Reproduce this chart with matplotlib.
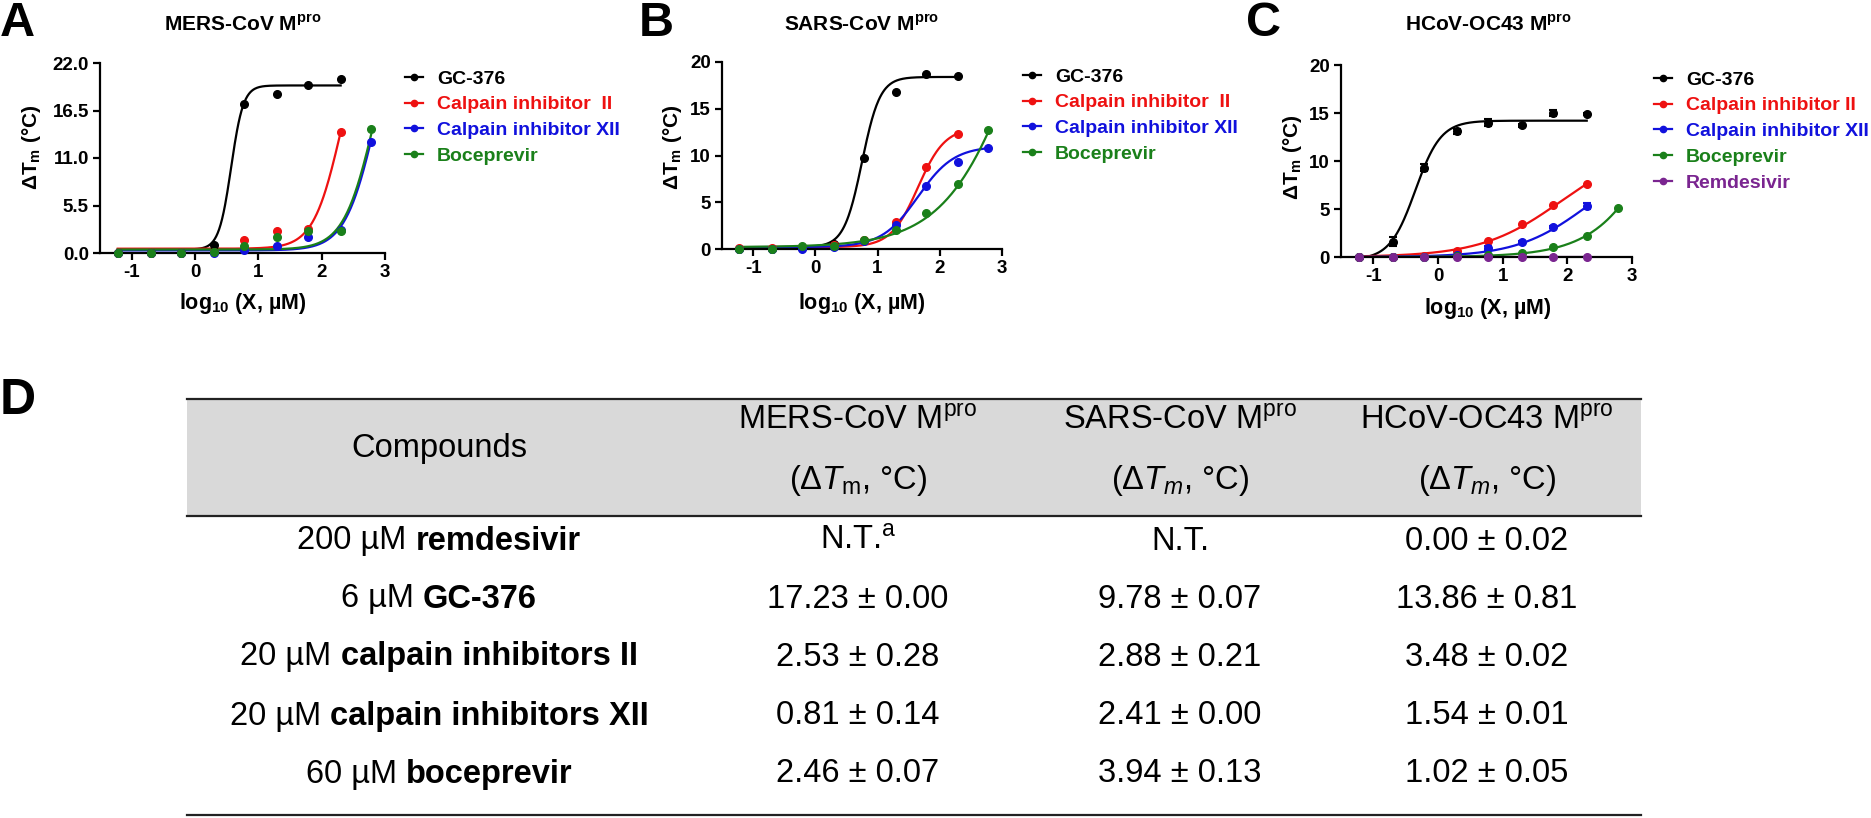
import matplotlib
matplotlib.use("Agg")
import matplotlib.pyplot as plt
from matplotlib.lines import Line2D
from matplotlib.patches import Rectangle
import numpy as np

plt.rcParams['font.family'] = ['Liberation Sans', 'DejaVu Sans']
plt.rcParams['mathtext.fontset'] = 'custom'
plt.rcParams['mathtext.rm'] = 'Liberation Sans'
plt.rcParams['mathtext.bf'] = 'Liberation Sans:bold'
plt.rcParams['mathtext.it'] = 'Liberation Sans:italic'

# log10 of compound concentration (uM)
log_conc = [-1.22, -0.70, -0.22, 0.30, 0.78, 1.30, 1.78, 2.30, 2.78]

# Panel A: MERS-CoV Mpro, delta Tm (C)
mers_gc376 = [0.0, 0.0, 0.05, 0.96, 17.2, 18.4, 19.4, 20.1]
mers_cal2 = [0.0, 0.0, 0.05, 0.1, 1.55, 2.5, 2.8, 14.0]
mers_cal12 = [0.0, 0.0, 0.0, 0.05, 0.3, 0.8, 1.85, 2.7, 12.9]
mers_boce = [0.0, 0.0, 0.05, 0.1, 0.8, 1.85, 2.5, 2.6, 14.35]

# Panel B: SARS-CoV Mpro
sars_gc376 = [0.0, 0.05, 0.1, 0.5, 9.78, 16.8, 18.7, 18.5]
sars_cal2 = [0.1, 0.1, 0.2, 0.4, 1.0, 2.85, 8.75, 12.3]
sars_cal12 = [0.0, 0.0, 0.0, 0.2, 0.9, 2.6, 6.75, 9.35, 10.85]
sars_boce = [0.0, 0.05, 0.3, 0.35, 1.0, 2.0, 3.85, 6.9, 12.7]

# Panel C: HCoV-OC43 Mpro
hcov_gc376 = [0.0, 1.6, 9.3, 13.1, 14.0, 13.7, 15.0, 14.9]
hcov_gc376_err = [0.0, 0.45, 0.35, 0.25, 0.4, 0.2, 0.3, 0.1]
hcov_cal2 = [0.0, 0.0, 0.15, 0.6, 1.7, 3.4, 5.4, 7.65]
hcov_cal12 = [0.0, 0.0, 0.05, 0.2, 0.9, 1.6, 3.1, 5.3]
hcov_cal12_err = [0.0, 0.0, 0.0, 0.0, 0.2, 0.1, 0.1, 0.3]
hcov_boce = [0.0, 0.0, 0.0, 0.1, 0.2, 0.4, 1.0, 2.2, 5.1]
hcov_remd = [0.0, 0.0, 0.0, 0.0, 0.0, 0.0, 0.0, 0.0]

# fitted dose-response parameters: bottom, top, logEC50, hill slope
mers_fits = [(0.4, 19.4, 0.57, 4.5), (0.5, 27.5, 2.3, 2.0), (0.3, 30.0, 2.85, 1.8), (0.4, 30.0, 2.83, 1.8)]
sars_fits = [(0.2, 18.4, 0.75, 3.0), (0.2, 13.0, 1.65, 2.0), (0.2, 11.0, 1.65, 1.5), (0.2, 46.0, 3.4, 0.7)]
hcov_fits = [(-0.3, 14.2, -0.35, 2.2), (0.0, 11.6, 1.9, 0.7), (0.0, 10.5, 2.3, 0.8),
             (0.0, 38.0, 3.8, 0.8), (0.0, 0.0, 0.0, 1.0)]

names = ["GC-376", "Calpain inhibitor  II", "Calpain inhibitor XII", "Boceprevir", "Remdesivir"]
names_c = ["GC-376", "Calpain inhibitor II", "Calpain inhibitor XII", "Boceprevir", "Remdesivir"]
colors = ["#000000", "#EE1111", "#1111DD", "#1A801A", "#7A2590"]

mers_yticks = [0.0, 5.5, 11.0, 16.5, 22.0]
other_yticks = [0, 5, 10, 15, 20]
xticks = [-1, 0, 1, 2, 3]

# table D
conc_txt = ["200 µM", "6 µM", "20 µM", "20 µM", "60 µM"]
cmpd_txt = ["remdesivir", "GC-376", "calpain inhibitors II", "calpain inhibitors XII", "boceprevir"]
mers_dtm = ["N.T.$^{\\mathrm{a}}$", "17.23 ± 0.00", "2.53 ± 0.28", "0.81 ± 0.14", "2.46 ± 0.07"]
sars_dtm = ["N.T.", "9.78 ± 0.07", "2.88 ± 0.21", "2.41 ± 0.00", "3.94 ± 0.13"]
hcov_dtm = ["0.00 ± 0.02", "13.86 ± 0.81", "3.48 ± 0.02", "1.54 ± 0.01", "1.02 ± 0.05"]
col_heads = ["MERS-CoV M$^{\\mathrm{pro}}$", "SARS-CoV M$^{\\mathrm{pro}}$", "HCoV-OC43 M$^{\\mathrm{pro}}$"]
col_units = ["(Δ$\\mathit{T}_{\\mathrm{m}}$, °C)", "(Δ$\\mathit{T}_{\\mathit{m}}$, °C)", "(Δ$\\mathit{T}_{\\mathit{m}}$, °C)"]

W, H = 1871, 818
fig = plt.figure(figsize=(W / 100, H / 100), dpi=100)


def hill(x, bottom, top, logec50, slope):
    return bottom + (top - bottom) / (1 + 10 ** ((logec50 - x) * slope))


def px_axes(left, top, right, bottom):
    return fig.add_axes([left / W, 1 - bottom / H, (right - left) / W, (bottom - top) / H])


def draw_panel(ax, series, fits, errs, yticks, ylabels, ymax):
    for i, (vals, fit) in enumerate(zip(series, fits)):
        x = np.array(log_conc[:len(vals)])
        xs = np.linspace(x[0], x[-1], 300)
        ax.plot(xs, hill(xs, *fit), color=colors[i], lw=1.6, zorder=2)
        if errs[i] is not None:
            ax.errorbar(x, vals, yerr=errs[i], fmt='none', ecolor=colors[i], elinewidth=1.5,
                        capsize=3, capthick=1.5, clip_on=False, zorder=3)
        ax.plot(x, vals, 'o', color=colors[i], ms=5.5, clip_on=False, zorder=3)
    ax.set_xlim(-1.5, 3)
    ax.set_ylim(0, ymax)
    ax.set_xticks(xticks)
    ax.set_xticklabels([str(t) for t in xticks])
    ax.set_yticks(yticks)
    ax.set_yticklabels(ylabels)
    for s in ['top', 'right']:
        ax.spines[s].set_visible(False)
    for s in ['left', 'bottom']:
        ax.spines[s].set_linewidth(1.6)
    ax.tick_params(direction='out', length=5, width=1.6, labelsize=13.5, pad=3)
    for lbl in ax.get_xticklabels() + ax.get_yticklabels():
        lbl.set_fontweight('bold')


def legend(labels, n, x, y):
    handles = [Line2D([], [], color=colors[i], marker='o', ms=4.5, lw=1.6) for i in range(n)]
    fig.legend(handles, labels[:n], loc='upper left', bbox_to_anchor=(x / W, 1 - y / H),
               frameon=False, prop={'weight': 'bold', 'size': 14}, labelcolor='linecolor',
               handlelength=0.95, handletextpad=0.7, labelspacing=0.42, borderpad=0, borderaxespad=0)


axA = px_axes(100, 63, 385, 253)
draw_panel(axA, [mers_gc376, mers_cal2, mers_cal12, mers_boce], mers_fits, [None] * 4,
           mers_yticks, ["%.1f" % t for t in mers_yticks], 22)
axB = px_axes(722, 62, 1002, 249)
draw_panel(axB, [sars_gc376, sars_cal2, sars_cal12, sars_boce], sars_fits, [None] * 4,
           other_yticks, [str(t) for t in other_yticks], 20)
axC = px_axes(1341, 65, 1632, 257)
draw_panel(axC, [hcov_gc376, hcov_cal2, hcov_cal12, hcov_boce, hcov_remd], hcov_fits,
           [hcov_gc376_err, None, hcov_cal12_err, None, None],
           other_yticks, [str(t) for t in other_yticks], 20)

legend(names, 4, 405, 70)
legend(names, 4, 1023, 68)
legend(names_c, 5, 1654, 71)

titles = ["MERS-CoV M$^{\\mathbf{pro}}$", "SARS-CoV M$^{\\mathbf{pro}}$", "HCoV-OC43 M$^{\\mathbf{pro}}$"]
title_x = [243, 862, 1488]
ylab_x = [32, 672, 1293]
ylab_y = [147, 147, 157]
xlab_x = [243, 862, 1488]
xlab_y = [303, 303, 308]
letter_x = [0, 639, 1246]
for i in range(3):
    fig.text(title_x[i] / W, 1 - 25 / H, titles[i], ha='center', va='center', fontsize=15, fontweight='bold')
    fig.text(ylab_x[i] / W, 1 - ylab_y[i] / H, "ΔT$_{\\mathbf{m}}$ (°C)", rotation=90, ha='center',
             va='center', fontsize=15, fontweight='bold')
    fig.text(xlab_x[i] / W, 1 - xlab_y[i] / H, "log$_{\\mathbf{10}}$ (X, µM)", ha='center', va='center',
             fontsize=15.5, fontweight='bold')
    fig.text(letter_x[i] / W, 1 - 1 / H, "ABC"[i], ha='left', va='top', fontsize=35, fontweight='bold')
fig.text(0, 1 - 378 / H, "D", ha='left', va='top', fontsize=36, fontweight='bold')

# ---- table D ----
tab = fig.add_axes([0, 0, 1, 1], zorder=-1)
tab.set_xlim(0, W)
tab.set_ylim(H, 0)
tab.axis('off')
t_left, t_right = 187, 1641
t_top, t_head, t_bot = 399, 516, 815
tab.add_patch(Rectangle((t_left, t_top), t_right - t_left, t_head - t_top, facecolor='#d9d9d9', edgecolor='none'))
for yy in [t_top, t_head, t_bot]:
    tab.plot([t_left, t_right], [yy, yy], color='#222222', lw=1.6)

fs = 23.5
col_x = [439, 858, 1180, 1487]
row_y = [541, 599, 657, 716, 774]
tab.text(col_x[0], 448, "Compounds", ha='center', va='center', fontsize=fs)
for j in range(3):
    tab.text(col_x[j + 1], 421, col_heads[j], ha='center', va='center', fontsize=fs)
    tab.text(col_x[j + 1], 480, col_units[j], ha='center', va='center', fontsize=fs)

renderer = fig.canvas.get_renderer()
gap = 0.278 * fs * 100 / 72
for i in range(5):
    t1 = tab.text(0, row_y[i], conc_txt[i], ha='left', va='center', fontsize=fs)
    t2 = tab.text(0, row_y[i], cmpd_txt[i], ha='left', va='center', fontsize=fs, fontweight='bold')
    w1 = t1.get_window_extent(renderer).width
    w2 = t2.get_window_extent(renderer).width
    x0 = col_x[0] - (w1 + gap + w2) / 2
    t1.set_x(x0)
    t2.set_x(x0 + w1 + gap)
    for j, col in enumerate([mers_dtm, sars_dtm, hcov_dtm]):
        tab.text(col_x[j + 1], row_y[i], col[i], ha='center', va='center', fontsize=fs)

fig.savefig("out.png", dpi=100)
